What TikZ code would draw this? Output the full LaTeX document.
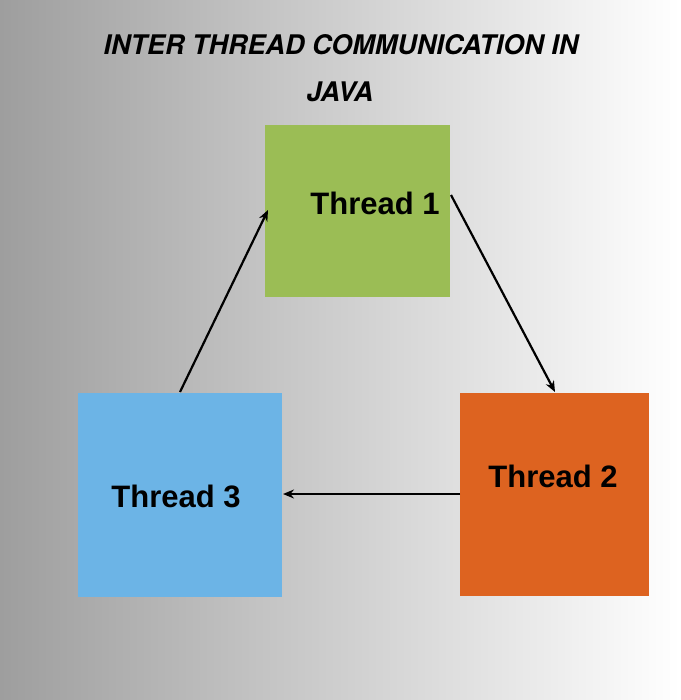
\documentclass[tikz,border=0pt]{standalone}
\usepackage{fontspec}
\setmainfont{Liberation Sans}
\newfontfamily\titlefont{TeX Gyre Heros}
\usetikzlibrary{calc,arrows.meta}
\definecolor{tgreen}{HTML}{9BBD55}
\definecolor{torange}{HTML}{DD6320}
\definecolor{tblue}{HTML}{6CB4E6}
\tikzset{
  box/.style={draw=none,minimum width=#1,inner sep=0pt,anchor=north west},
  lbl/.style={font=\fontsize{31}{36}\selectfont\bfseries},
  conn/.style={-{Stealth[length=11pt,width=9pt]},line width=2.2pt},
  ttl/.style={font=\titlefont\fontsize{27}{32}\selectfont\bfseries\itshape}
}
\begin{document}
\begin{tikzpicture}[x=1pt,y=-1pt]
\shade[left color={rgb,255:red,158;green,158;blue,158},right color=white] (0,0) rectangle (680,700);
\useasboundingbox (0,0) rectangle (680,700);
\node[ttl] (title1) at (341,45) {INTER THREAD COMMUNICATION IN};
\node[ttl] (title2) at (340,92) {JAVA};
\fill[tgreen] (265,125) rectangle (450,297);
\fill[torange] (460,393) rectangle (649,596);
\fill[tblue] (78,393) rectangle (282,597);
\node[lbl] (t1) at (375,203) {Thread 1};
\node[lbl] (t2) at (553,476) {Thread 2};
\node[lbl] (t3) at (176,496) {Thread 3};
\coordinate (a1s) at (451,195);
\coordinate (a1e) at (555,392);
\coordinate (a2s) at (460,494);
\coordinate (a2e) at (283,494);
\coordinate (a3s) at (180,392);
\coordinate (a3e) at (268,210);
\draw[conn] (a1s) -- (a1e);
\draw[conn] (a2s) -- (a2e);
\draw[conn] (a3s) -- (a3e);
\end{tikzpicture}
\end{document}
